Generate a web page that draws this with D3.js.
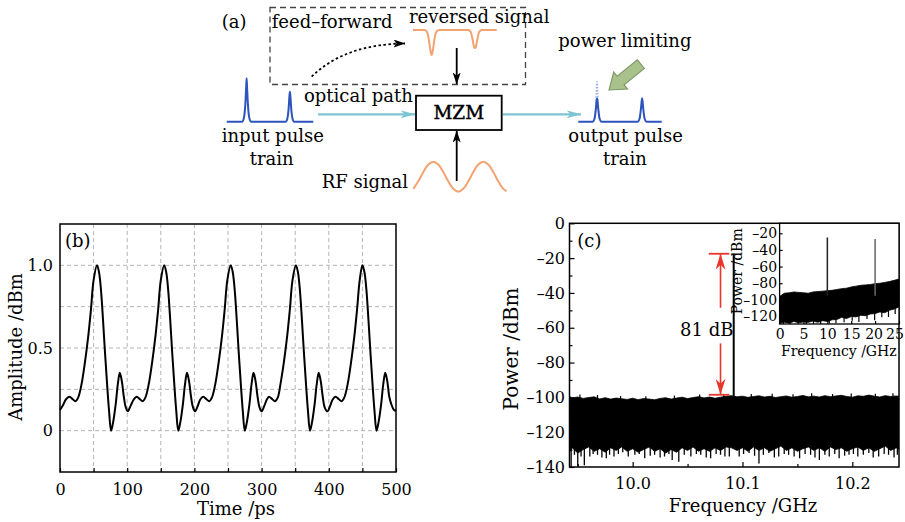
<!DOCTYPE html>
<html><head><meta charset="utf-8">
<script src="https://cdn.jsdelivr.net/npm/d3@7"></script>
<style>
body{margin:0;background:#fff}
svg{display:block}
text{font-family:"DejaVu Serif",serif;fill:#000}
</style>
</head><body>
<svg id="c" width="905" height="522"></svg>
<script>
// ================= DATA =================
// (b) temporal trace: [time ps, amplitude]
const ampTrace = [
[0,0.125],[4,0.15],[9,0.19],[14,0.205],[19,0.19],[23,0.178],[27,0.2],[32,0.28],[37,0.41],[42,0.57],[46,0.73],[50,0.91],[55,1.0],[58,0.96],[61,0.85],[64,0.67],[67,0.47],[70,0.286],[73,0.12],[76,0.0],[79,0.05],[83,0.164],[86,0.28],[89,0.35],[92,0.3],[95,0.205],[98,0.14],[101,0.117],
[105,0.15],[110,0.19],[114,0.205],[119,0.19],[123,0.178],[127,0.2],[132,0.28],[137,0.41],[142,0.57],[146,0.73],[150,0.91],[155,1.0],[158,0.96],[161,0.85],[164,0.67],[167,0.47],[170,0.286],[173,0.12],[176,0.0],[179,0.05],[183,0.164],[186,0.28],[189,0.35],[192,0.3],[195,0.205],[198,0.14],[201,0.117],
[205,0.15],[209,0.19],[213,0.205],[218,0.19],[222,0.178],[226,0.2],[231,0.28],[236,0.41],[241,0.57],[245,0.73],[249,0.91],[254,1.0],[257,0.96],[260,0.85],[263,0.67],[266,0.47],[269,0.286],[272,0.12],[275,0.0],[278,0.05],[282,0.164],[285,0.28],[288,0.35],[291,0.3],[294,0.205],[297,0.14],[300,0.117],
[304,0.15],[308,0.19],[311,0.205],[316,0.19],[320,0.178],[324,0.2],[328,0.28],[333,0.41],[338,0.57],[342,0.73],[346,0.91],[351,1.0],[354,0.96],[357,0.85],[360,0.67],[363,0.47],[366,0.286],[369,0.12],[372,0.0],[375,0.05],[379,0.164],[382,0.28],[385,0.35],[388,0.3],[391,0.205],[394,0.14],[398,0.117],
[402,0.15],[406,0.19],[410,0.205],[415,0.19],[419,0.178],[423,0.2],[428,0.28],[433,0.41],[438,0.57],[442,0.73],[446,0.91],[450,1.0],[453,0.96],[456,0.85],[459,0.67],[462,0.47],[465,0.286],[468,0.12],[471,0.0],[474,0.05],[478,0.164],[481,0.28],[484,0.35],[487,0.3],[490,0.205],[493,0.16],[497,0.125],[500,0.12]
];
const timeTicks = [0,100,200,300,400,500];
const timeMinor = [50,150,250,350,450];
const timeGrid = [50,100,150,200,250,300,350,400,450];
const ampTicks = [0,0.5,1.0];
const ampGrid = [0,0.25,0.5,0.75,1.0];

// (c) main spectrum noise floor: [freq GHz, upper edge dBm, lower edge dBm]
const mainNoise = [
[9.943,-99.6,-131],[9.945,-100.3,-129],[9.950,-99.8,-132],[9.955,-100.6,-130],[9.960,-100.1,-128.5],[9.965,-99.7,-131],[9.970,-100.9,-129.5],[9.975,-100.2,-131.5],[9.980,-101.0,-129],[9.985,-100.4,-130.5],[9.990,-100.8,-128.5],[9.995,-101.2,-131],[10.000,-100.5,-129.5],[10.005,-101.3,-131.5],[10.010,-100.7,-130],[10.015,-101.0,-128.5],[10.020,-101.4,-131],[10.025,-100.6,-129.5],[10.030,-100.2,-132],[10.035,-101.0,-130],[10.040,-100.4,-131.5],[10.045,-99.9,-129],[10.050,-100.7,-130.5],[10.055,-100.1,-128.5],[10.060,-99.6,-131],[10.065,-100.3,-129.5],[10.070,-99.8,-131],[10.075,-100.5,-129],[10.080,-99.9,-130.5],[10.085,-99.4,-128.5],[10.090,-99.0,-129],[10.095,-99.7,-130.5],[10.100,-99.3,-129],[10.105,-100.0,-131],[10.110,-99.5,-128.5],[10.115,-99.1,-130.5],[10.120,-99.8,-129],[10.125,-99.4,-131],[10.130,-100.1,-129.5],[10.135,-99.6,-128],[10.140,-99.2,-130.5],[10.145,-99.9,-129],[10.150,-99.5,-131],[10.155,-98.9,-129.5],[10.160,-99.7,-128.5],[10.165,-99.3,-130.5],[10.170,-99.8,-129],[10.175,-99.0,-131],[10.180,-99.6,-128.5],[10.185,-99.2,-130],[10.190,-98.8,-129],[10.195,-99.5,-131],[10.200,-99.9,-129.5],[10.205,-99.1,-128.5],[10.210,-99.4,-130.5],[10.215,-98.7,-129],[10.220,-99.3,-131],[10.225,-99.8,-129.5],[10.230,-99.0,-128],[10.235,-99.5,-130.5],[10.240,-99.2,-129],[10.243,-99.4,-130]
];
// downward excursions below the noise floor: [freq, dBm]
const mainLowSpikes = [
[9.944,-140],[9.947,-133],[9.950,-139.5],[9.953,-134],[9.956,-139],[9.961,-134],[9.964,-132.5],[9.968,-133],[9.972,-134.5],[9.976,-135],[9.979,-133],[9.983,-134],[9.987,-132.5],[9.991,-131.5],[9.996,-134],[10.002,-133],[10.006,-132.5],[10.011,-135],[10.016,-133.5],[10.020,-133],[10.025,-134.5],[10.029,-134],[10.033,-132.5],[10.036,-136],[10.042,-137],[10.047,-133],[10.053,-134],[10.058,-132.5],[10.062,-133],[10.067,-134.5],[10.071,-135],[10.076,-132.5],[10.080,-133],[10.084,-134],[10.088,-134],[10.097,-134],[10.101,-132.5],[10.106,-132],[10.111,-133.5],[10.115,-138],[10.119,-133],[10.124,-132],[10.129,-134.5],[10.133,-134],[10.138,-132.5],[10.142,-133],[10.147,-134],[10.152,-135],[10.157,-132.5],[10.162,-133],[10.166,-134.5],[10.170,-136],[10.175,-133],[10.179,-134],[10.184,-132.5],[10.188,-135],[10.193,-133.5],[10.197,-133],[10.201,-132.5],[10.205,-134],[10.210,-133],[10.215,-132],[10.219,-134.5],[10.224,-134],[10.229,-132.5],[10.233,-133],[10.238,-134.5],[10.241,-133]
];
const mainHighSpikes = [
[9.952,-98.3],[9.968,-98.6],[9.989,-99.2],[10.012,-99.4],[10.038,-98.9],[10.061,-98.4],[10.083,-98.6],[10.108,-98.0],[10.127,-97.9],[10.146,-98.2],[10.163,-97.6],[10.182,-98.1],[10.199,-97.8],[10.221,-97.9],[10.237,-97.7]
];
const toneLine = [10.092, -17.5];          // [freq, peak dBm]
const markerLevels = [-17.5, -98.5];       // 81 dB span
const markerFreq = 10.080;
const freqTicks = [10.0,10.1,10.2];
const freqMinor = [9.95,10.05,10.15];
const powerTicks = [-140,-120,-100,-80,-60,-40,-20,0];
const powerMinor = [-130,-110,-90,-70,-50,-30,-10];

// (c) inset wide-span spectrum: [freq GHz, upper edge, lower edge]
const insetNoise = [
[0,-96,-128],[1,-92,-127],[2,-91.5,-128],[3,-90.5,-126],[4,-91,-127.5],[5,-91.5,-126.5],[6,-92,-127],[7,-90.5,-125.5],[8,-90,-127],[9,-89.5,-125],[10,-89,-126],[11,-88.5,-124],[12,-87.5,-123.5],[13,-86.5,-121],[14,-86,-122.5],[15,-84.5,-120],[16,-83.5,-120.5],[17,-82.5,-118.5],[18,-82,-119],[19,-81.5,-117],[20,-80.5,-116.5],[21,-80,-114.5],[22,-79,-115.5],[23,-78,-112.5],[24,-76.5,-111],[25,-75,-108.5]
];
const insetLowSpikes = [
[0.8,-129],[2.2,-129],[3.9,-129],[5.6,-129],[7.1,-129],[8.6,-129],[10.4,-128.5],[11.8,-128],[13.5,-127],[15.2,-125],[16.6,-126.5],[18.3,-123],[19.9,-124.5],[21.4,-121],[22.8,-120.5],[24.2,-117]
];
const insetLines = [[10,-25],[20,-27]];
const insetFreqTicks = [0,5,10,15,20,25];
const insetPowerTicks = [-120,-100,-80,-60,-40,-20];

// (a) schematic waveform sketches: [position 0-100, normalised level]
const inputPulse = [[0,0],[18,0],[20,0.1],[21.5,0.4],[22.5,0.8],[23,1],[23.5,0.8],[24.5,0.4],[26,0.1],[28,0],[68,0],[70,0.07],[71.5,0.3],[72.5,0.6],[73,0.69],[73.5,0.6],[74.5,0.3],[76,0.07],[78,0],[100,0]];
const outputPulse = [[0,0],[17,0],[19.5,0.08],[21,0.3],[22,0.52],[22.5,0.585],[23,0.52],[24,0.3],[25.5,0.08],[28,0],[71,0],[73.5,0.08],[75,0.3],[76,0.52],[76.5,0.585],[77,0.52],[78,0.3],[79.5,0.08],[82,0],[100,0]];
const clippedPart = [[19.5,0.08],[20.5,0.3],[21.5,0.7],[22,0.95],[22.4,1],[22.8,0.95],[23.3,0.7],[24.3,0.3],[25.5,0.08]];
const reversedSignal = [[0,0],[14,0],[17,0.1],[19,0.4],[21,0.85],[22.3,1],[23.5,0.85],[25.5,0.4],[27.5,0.1],[31,0],[66,0],[69,0.08],[71,0.35],[73,0.68],[74,0.72],[75,0.68],[77,0.35],[79,0.08],[82,0],[100,0]];
const rfSignal = [[0,0.095],[5,0.345],[10,0.655],[15,0.905],[20,1],[25,0.905],[30,0.655],[35,0.345],[40,0.095],[45,0],[50,0.095],[55,0.345],[60,0.655],[65,0.905],[70,1],[75,0.905],[80,0.655],[85,0.345],[90,0.095],[93.4,0.02]];

// ================= DRAW =================
const svg = d3.select("#c");
svg.append("rect").attr("width",905).attr("height",522).attr("fill","#fff");
const defs = svg.append("defs");
function marker(id, color, w, h, notch){
  defs.append("marker").attr("id",id).attr("markerUnits","userSpaceOnUse")
    .attr("viewBox",`0 0 ${w} ${h}`).attr("markerWidth",w).attr("markerHeight",h)
    .attr("refX",w-0.5).attr("refY",h/2).attr("orient","auto")
    .append("path").attr("d",`M0,0 L${w},${h/2} L0,${h} L${notch},${h/2} Z`).attr("fill",color);
}
marker("mCyan","#7ec5d4",15,8,4);
marker("mBlack","#000",12,8,3);
marker("mRed","#e8362a",16,10,5);

const FONT = "DejaVu Serif";
function label(g, s, x, y, size, anchor, weight){
  return g.append("text").attr("x",x).attr("y",y).attr("font-size",size)
    .attr("text-anchor",anchor||"start").attr("font-weight",weight||"normal").text(s);
}

// ---------- panel (a) ----------
const A = svg.append("g");
A.append("rect").attr("x",270).attr("y",7.5).attr("width",255.5).attr("height",77)
  .attr("fill","none").attr("stroke","#444").attr("stroke-width",1.3).attr("stroke-dasharray","6,4");
A.append("rect").attr("x",416).attr("y",95.7).attr("width",85.7).attr("height",34.3)
  .attr("fill","#fff").attr("stroke","#000").attr("stroke-width",1.8);

function sketch(data, xr, yr, color, width, dash){
  const sx = d3.scaleLinear().domain([0,100]).range(xr);
  const sy = d3.scaleLinear().domain([0,1]).range(yr);
  A.append("path").datum(data).attr("fill","none").attr("stroke",color).attr("stroke-width",width)
    .attr("stroke-dasharray",dash||null)
    .attr("d", d3.line().x(d=>sx(d[0])).y(d=>sy(d[1])).curve(d3.curveMonotoneX));
}
sketch(inputPulse,[226.7,313.3],[121.7,78.3],"#2d54bd",2);
sketch(clippedPart,[578.3,661.7],[121.7,81.7],"#8ea6e2",1.3,"1.5,1.5");
sketch(outputPulse,[578.3,661.7],[121.7,81.7],"#2d54bd",2);
sketch(reversedSignal,[413,496.7],[30,55],"#f3a272",2);
{
  const sx = d3.scaleLinear().domain([0,93.4]).range([413.3,506.7]);
  const sy = d3.scaleLinear().domain([0,1]).range([191.7,161.7]);
  A.append("path").datum(rfSignal).attr("fill","none").attr("stroke","#f3a272").attr("stroke-width",2)
    .attr("d", d3.line().x(d=>sx(d[0])).y(d=>sy(d[1])).curve(d3.curveCatmullRom));
}
// arrows
A.append("line").attr("x1",318).attr("y1",114.3).attr("x2",415).attr("y2",114.3)
  .attr("stroke","#7ec5d4").attr("stroke-width",2.2).attr("marker-end","url(#mCyan)");
A.append("line").attr("x1",503).attr("y1",114.3).attr("x2",581).attr("y2",114.3)
  .attr("stroke","#7ec5d4").attr("stroke-width",2.2).attr("marker-end","url(#mCyan)");
A.append("line").attr("x1",456.7).attr("y1",48).attr("x2",456.7).attr("y2",84)
  .attr("stroke","#000").attr("stroke-width",1.8).attr("marker-end","url(#mBlack)");
A.append("line").attr("x1",456.7).attr("y1",181).attr("x2",456.7).attr("y2",131)
  .attr("stroke","#000").attr("stroke-width",1.8).attr("marker-end","url(#mBlack)");
A.append("path").attr("d","M311.7,76.7 Q345,44 405,43.5").attr("fill","none")
  .attr("stroke","#000").attr("stroke-width",1.8).attr("stroke-dasharray","2.5,2.5")
  .attr("marker-end","url(#mBlack)");
A.append("path").attr("transform","translate(609,90) rotate(140.9)")
  .attr("d","M0,0 L-15,-11 L-15,-5.5 L-41,-5.5 L-41,5.5 L-15,5.5 L-15,11 Z")
  .attr("fill","#a9c28c").attr("stroke","#7f9a69").attr("stroke-width",1.2);
// texts
label(A,"(a)",221.7,28,18);
label(A,"feed–forward",271.7,28,18);
label(A,"reversed signal",409,23,18);
label(A,"power limiting",558.3,47,18);
label(A,"optical path",304,101.7,18);
label(A,"MZM",458.8,119.3,18.5,"middle").attr("stroke","#000").attr("stroke-width",0.45);
label(A,"input pulse",221.7,141.7,18);
label(A,"train",271.7,165,18,"middle");
label(A,"output pulse",568.3,141.7,18);
label(A,"train",625,165,18,"middle");
label(A,"RF signal",321.7,188.3,18);

// ---------- panel (b) ----------
const B = svg.append("g");
const xB = d3.scaleLinear().domain([0,500]).range([60,396]);
const yB = d3.scaleLinear().domain([-0.25,1.25]).range([472,224]);
B.selectAll("line.gx").data(timeGrid).join("line").attr("x1",d=>xB(d)).attr("x2",d=>xB(d))
  .attr("y1",224).attr("y2",472).attr("stroke","#b4b4b4").attr("stroke-width",1).attr("stroke-dasharray","4,3");
B.selectAll("line.gy").data(ampGrid).join("line").attr("y1",d=>yB(d)).attr("y2",d=>yB(d))
  .attr("x1",60).attr("x2",396).attr("stroke","#b4b4b4").attr("stroke-width",1).attr("stroke-dasharray","4,3");
B.append("path").datum(ampTrace).attr("fill","none").attr("stroke","#000").attr("stroke-width",2)
  .attr("d", d3.line().x(d=>xB(d[0])).y(d=>yB(d[1])).curve(d3.curveCatmullRom.alpha(0.5)));
function styleAxis(g, size){
  g.attr("font-family",FONT).attr("font-size",size);
  g.select(".domain").remove();
  g.selectAll(".tick line").attr("stroke","#000").attr("stroke-width",1.2);
  g.selectAll(".tick text").attr("fill","#000");
}
B.append("g").attr("transform","translate(0,472)")
  .call(d3.axisBottom(xB).tickValues(timeTicks).tickSize(-4).tickPadding(12).tickFormat(d3.format("d")))
  .call(g=>styleAxis(g,16));
B.append("g").attr("transform","translate(0,472)")
  .call(d3.axisBottom(xB).tickValues(timeMinor).tickSize(-4).tickFormat(""))
  .call(g=>styleAxis(g,16));
B.append("g").attr("transform","translate(60,0)")
  .call(d3.axisLeft(yB).tickValues(ampTicks).tickSize(0).tickPadding(7).tickFormat(d=>d===0?"0":d3.format(".1f")(d)))
  .call(g=>styleAxis(g,16));
B.append("rect").attr("x",60).attr("y",224).attr("width",336).attr("height",248)
  .attr("fill","none").attr("stroke","#000").attr("stroke-width",1.5);
label(B,"(b)",65,247,18);
label(B,"Time /ps",236,515,18,"middle");
B.append("text").attr("transform","translate(21.5,347) rotate(-90)").attr("font-size",18)
  .attr("text-anchor","middle").text("Amplitude /dBm");

// ---------- panel (c) ----------
const C = svg.append("g");
const X0=569.5, X1=899, Y0=223.3, Y1=467;
const xC = d3.scaleLinear().domain([9.9425,10.2425]).range([X0,X1]);
const yC = d3.scaleLinear().domain([-140,0]).range([Y1,Y0]);
defs.append("clipPath").attr("id","clipC").append("rect").attr("x",X0).attr("y",Y0).attr("width",X1-X0).attr("height",Y1-Y0);
const P = C.append("g").attr("clip-path","url(#clipC)");
P.append("path").datum(mainNoise).attr("fill","#000").attr("stroke","#000").attr("stroke-width",0.8)
  .attr("d", d3.area().x(d=>xC(d[0])).y0(d=>yC(d[2])).y1(d=>yC(d[1])));
P.selectAll("line.ls").data(mainLowSpikes).join("line").attr("x1",d=>xC(d[0])).attr("x2",d=>xC(d[0]))
  .attr("y1",yC(-127)).attr("y2",d=>yC(d[1])).attr("stroke","#000").attr("stroke-width",1.3);
P.selectAll("line.hs").data(mainHighSpikes).join("line").attr("x1",d=>xC(d[0])).attr("x2",d=>xC(d[0]))
  .attr("y1",yC(-101.5)).attr("y2",d=>yC(d[1])).attr("stroke","#000").attr("stroke-width",1.2);
P.append("line").attr("x1",xC(toneLine[0])).attr("x2",xC(toneLine[0]))
  .attr("y1",yC(-101)).attr("y2",yC(toneLine[1])).attr("stroke","#000").attr("stroke-width",2);

// axes
C.append("g").attr("transform",`translate(${X0},0)`)
  .call(d3.axisLeft(yC).tickValues(powerTicks).tickSize(-5).tickPadding(4.5).tickFormat(d=>d<0?"–"+(-d):String(d)))
  .call(g=>styleAxis(g,16));
C.append("g").attr("transform",`translate(${X0},0)`)
  .call(d3.axisLeft(yC).tickValues(powerMinor).tickSize(-3).tickFormat(""))
  .call(g=>styleAxis(g,16));
C.append("g").attr("transform",`translate(0,${Y1})`)
  .call(d3.axisBottom(xC).tickValues(freqTicks).tickSize(-5).tickPadding(11).tickFormat(d3.format(".1f")))
  .call(g=>styleAxis(g,16));
C.append("g").attr("transform",`translate(0,${Y1})`)
  .call(d3.axisBottom(xC).tickValues(freqMinor).tickSize(-3).tickFormat(""))
  .call(g=>styleAxis(g,16));

// 81 dB marker
const red = "#e8362a";
[markerLevels[0], markerLevels[1]].forEach(v=>{
  C.append("line").attr("x1",xC(markerFreq-0.0107)).attr("x2",xC(markerFreq+0.008))
    .attr("y1",yC(v)).attr("y2",yC(v)).attr("stroke",red).attr("stroke-width",1.8);
});
C.append("line").attr("x1",xC(markerFreq)).attr("x2",xC(markerFreq))
  .attr("y1",yC(-48.5)).attr("y2",yC(markerLevels[0])+0.5).attr("stroke",red).attr("stroke-width",1.6).attr("marker-end","url(#mRed)");
C.append("line").attr("x1",xC(markerFreq)).attr("x2",xC(markerFreq))
  .attr("y1",yC(-69)).attr("y2",yC(markerLevels[1])-0.5).attr("stroke",red).attr("stroke-width",1.6).attr("marker-end","url(#mRed)");
label(C,"81 dB",706.7,335.5,18,"middle");

C.append("rect").attr("x",X0).attr("y",Y0).attr("width",X1-X0).attr("height",Y1-Y0)
  .attr("fill","none").attr("stroke","#000").attr("stroke-width",1.5);
label(C,"(c)",577.3,247,18);
label(C,"Frequency /GHz",743,512,18,"middle");
C.append("text").attr("transform","translate(517.5,349) rotate(-90)").attr("font-size",20)
  .attr("text-anchor","middle").text("Power /dBm");

// ---------- inset ----------
const I = svg.append("g");
const IX0=779.6, IX1=899, IY0=223.3, IY1=324;
const xI = d3.scaleLinear().domain([0,25]).range([IX0,IX1]);
const yI = d3.scaleLinear().domain([-129,-8]).range([IY1,IY0]);
I.append("rect").attr("x",IX0).attr("y",IY0).attr("width",IX1-IX0).attr("height",IY1-IY0).attr("fill","#fff");
defs.append("clipPath").attr("id","clipI").append("rect").attr("x",IX0).attr("y",IY0).attr("width",IX1-IX0).attr("height",IY1-IY0);
const IP = I.append("g").attr("clip-path","url(#clipI)");
IP.append("path").datum(insetNoise).attr("fill","#000").attr("stroke","#000").attr("stroke-width",0.8)
  .attr("d", d3.area().x(d=>xI(d[0])).y0(d=>yI(d[2])).y1(d=>yI(d[1])));
IP.selectAll("line.is").data(insetLowSpikes).join("line").attr("x1",d=>xI(d[0])).attr("x2",d=>xI(d[0]))
  .attr("y1",yI(-105)).attr("y2",d=>yI(d[1])).attr("stroke","#000").attr("stroke-width",1.2);
IP.selectAll("line.il").data(insetLines).join("line").attr("x1",d=>xI(d[0])).attr("x2",d=>xI(d[0]))
  .attr("y1",yI(-95)).attr("y2",d=>yI(d[1])).attr("stroke",(d,i)=>i===0?"#222":"#666").attr("stroke-width",1.5);
I.append("g").attr("transform",`translate(0,${IY1})`)
  .call(d3.axisBottom(xI).tickValues(insetFreqTicks).tickSize(-3).tickPadding(5).tickFormat(d3.format("d")))
  .call(g=>styleAxis(g,14))
  .call(g=>g.selectAll(".tick text").attr("dx",d=>d===25?-4.5:(d===20?-1.5:0)));
I.append("g").attr("transform",`translate(${IX0},0)`)
  .call(d3.axisLeft(yI).tickValues(insetPowerTicks).tickSize(-3).tickPadding(2.5).tickFormat(d=>"–"+(-d)))
  .call(g=>styleAxis(g,14));
I.append("rect").attr("x",IX0).attr("y",IY0).attr("width",IX1-IX0).attr("height",IY1-IY0)
  .attr("fill","none").attr("stroke","#000").attr("stroke-width",1.3);
label(I,"Frequency /GHz",838.8,355.7,14,"middle");
I.append("text").attr("transform","translate(742,271.3) rotate(-90)").attr("font-size",14)
  .attr("text-anchor","middle").text("Power /dBm");
</script>
</body></html>
